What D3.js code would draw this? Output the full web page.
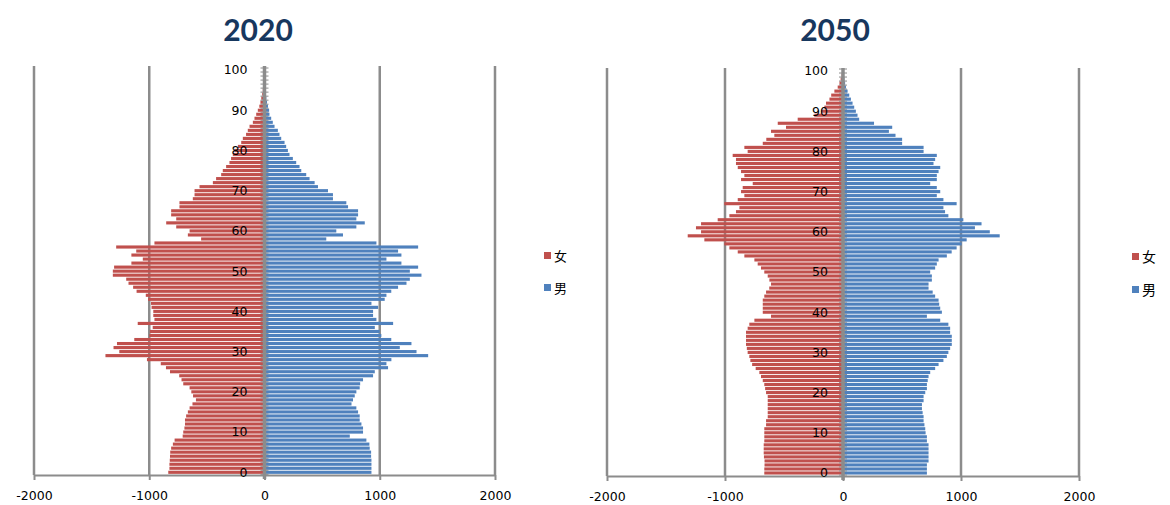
<!DOCTYPE html>
<html><head><meta charset="utf-8">
<script src="https://cdn.jsdelivr.net/npm/d3@7"></script>
<style>body{margin:0;background:#fff}svg{display:block}</style>
</head><body>
<svg id="c" width="1170" height="505"></svg>
<script>
// ---- data (age 0..100) ----
const ages = d3.range(0, 101);
const female2020 = [835,825,825,822,820,818,810,795,780,710,705,695,690,690,680,665,650,625,595,620,
 635,650,705,720,740,820,855,900,1020,1380,1260,1310,1280,1130,1000,995,970,1100,955,965,
 965,980,985,1010,1030,1110,1140,1180,1200,1316,1316,1305,1155,1056,1155,1113,1287,955,550,665,
 650,766,853,766,810,810,738,738,622,607,607,564,448,420,376,362,333,304,290,275,
 260,231,202,188,160,145,130,101,87,72,58,45,35,28,20,15,10,8,5,4,3];
const male2020 = [928,928,928,928,925,925,913,910,884,740,855,855,841,826,826,812,797,755,768,783,
 797,826,830,855,942,957,1072,1058,1101,1420,1319,1174,1275,1100,1014,1000,957,1116,971,942,
 942,986,928,1043,1058,1100,1159,1232,1261,1362,1261,1333,1188,1058,1188,1159,1333,971,536,681,
 623,797,870,797,812,812,725,710,594,594,551,464,435,391,362,319,304,275,246,217,
 203,188,174,145,130,116,87,72,58,43,40,30,22,16,12,8,6,4,3,2,2];
const female2050 = [667,667,665,665,670,672,672,672,667,667,667,667,652,652,638,638,638,638,638,638,
 652,660,667,680,695,709,740,770,785,794,808,815,822,822,822,822,808,794,751,610,
 680,680,680,680,667,652,625,610,624,638,667,695,723,751,836,892,963,1006,1175,1316,
 1203,1246,1203,1062,963,907,878,1006,892,836,864,850,765,864,836,864,892,907,907,935,
 808,836,680,650,582,610,483,553,384,243,186,158,144,115,100,73,45,30,20,12,8];
const male2050 = [711,711,711,725,725,725,725,725,711,711,700,697,690,683,683,675,669,669,683,683,
 697,711,711,718,725,739,781,810,851,880,893,908,922,922,922,908,908,893,824,711,
 838,824,815,810,781,760,725,725,753,753,739,781,795,810,880,921,963,1006,1048,1328,
 1244,1118,1174,1020,893,865,851,963,851,795,824,795,739,795,795,810,824,767,781,795,
 683,683,501,501,445,389,417,263,137,123,109,95,81,67,53,39,25,18,12,8,5];
const xTickValues = [-2000, -1000, 0, 1000, 2000];
const ageTickValues = [0, 10, 20, 30, 40, 50, 60, 70, 80, 90, 100];
const seriesNames = ["女", "男"];
const seriesColors = ["#C0504D", "#4F81BD"];
const panelTitles = ["2020", "2050"];

// ---- layout ----
const panels = [
  {title: panelTitles[0], f: female2020, m: male2020, x0: 34, x1: 495, top: 68, bottom: 474.3, axisY: 475, gridTop: 66,
   titleX: 258, labelOff: 17, legX: 544, legY: [252, 284], legFont: 13},
  {title: panelTitles[1], f: female2050, m: male2050, x0: 607, x1: 1079, top: 69, bottom: 475, axisY: 476, gridTop: 68,
   titleX: 835, labelOff: 15, legX: 1132, legY: [253, 286], legFont: 14}
];
const GRID = "#8c8c8c";
const svg = d3.select("#c");

panels.forEach(p => {
  const g = svg.append("g");
  const x = d3.scaleLinear().domain([-2000, 2000]).range([p.x0, p.x1]);
  const y = d3.scaleBand().domain(ages).range([p.bottom, p.top]).paddingInner(0.22).paddingOuter(0.11);
  const step = y.step();

  // title
  g.append("text").attr("x", p.titleX).attr("y", 41).attr("text-anchor", "middle")
    .attr("font-family", "Lato, 'Open Sans', sans-serif").attr("font-weight", "bold")
    .attr("font-size", 30).attr("fill", "#17375E").text(p.title);

  // vertical gridlines
  g.selectAll("line.grid").data(xTickValues.filter(d => d !== 0)).join("line")
    .attr("x1", d => x(d)).attr("x2", d => x(d))
    .attr("y1", p.gridTop).attr("y2", p.axisY)
    .attr("stroke", GRID).attr("stroke-width", 2.5);

  // bottom axis
  const xa = g.append("g").attr("transform", `translate(0,${p.axisY})`)
    .call(d3.axisBottom(x).tickValues(xTickValues).tickSize(5).tickSizeOuter(0).tickPadding(11).tickFormat(d => String(d)));
  xa.select(".domain").attr("stroke", GRID).attr("stroke-width", 2);
  xa.selectAll(".tick line").attr("stroke", GRID).attr("stroke-width", 2);
  xa.selectAll(".tick text").attr("font-family", "'DejaVu Sans', sans-serif").attr("font-size", 12.5).attr("fill", "#000");

  // bars
  g.selectAll("rect.f").data(ages).join("rect")
    .attr("x", a => x(-p.f[a])).attr("width", a => x(0) - x(-p.f[a]))
    .attr("y", a => y(a)).attr("height", y.bandwidth()).attr("fill", seriesColors[0]);
  g.selectAll("rect.m").data(ages).join("rect")
    .attr("x", x(0)).attr("width", a => x(p.m[a]) - x(0))
    .attr("y", a => y(a)).attr("height", y.bandwidth()).attr("fill", seriesColors[1]);

  // vertical category axis at 0
  const cx = x(0);
  g.append("line").attr("x1", cx).attr("x2", cx).attr("y1", p.gridTop).attr("y2", p.axisY + 4)
    .attr("stroke", GRID).attr("stroke-width", 3.5);
  g.selectAll("line.ct").data(ages.concat([101])).join("line")
    .attr("x1", cx - 4).attr("x2", cx + 4)
    .attr("y1", a => p.bottom - a * step).attr("y2", a => p.bottom - a * step)
    .attr("stroke", GRID).attr("stroke-width", 1);

  // age labels
  const ya = g.append("g").attr("transform", `translate(${cx - p.labelOff + 3},0)`)
    .call(d3.axisLeft(y).tickValues(ageTickValues).tickSize(0).tickPadding(3));
  ya.select(".domain").remove();
  ya.selectAll(".tick text").attr("font-family", "'DejaVu Sans', sans-serif").attr("font-size", 12.5)
    .attr("fill", "#000").attr("dy", "0.35em");

  // legend
  seriesNames.forEach((n, i) => {
    g.append("rect").attr("x", p.legX).attr("y", p.legY[i]).attr("width", 7).attr("height", 7).attr("fill", seriesColors[i]);
    g.append("text").attr("x", p.legX + 10).attr("y", p.legY[i] + 8.5)
      .attr("font-family", "'Noto Sans CJK SC', sans-serif").attr("font-size", p.legFont).attr("fill", "#000").text(n);
  });
});
</script>
</body></html>
